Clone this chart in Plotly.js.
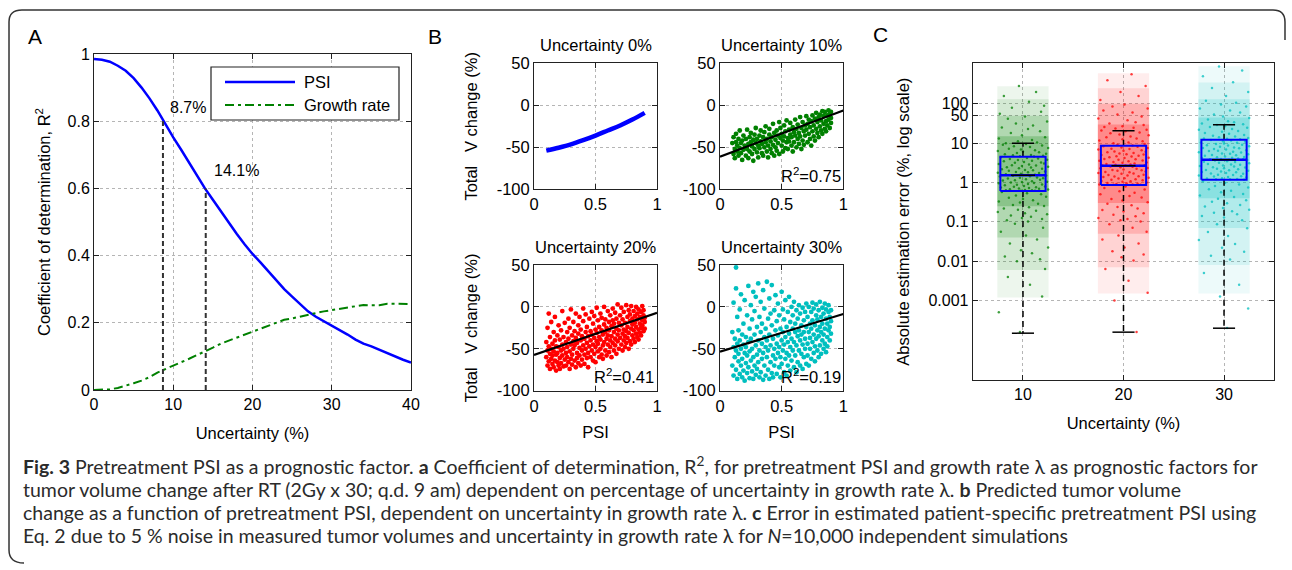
<!DOCTYPE html>
<html><head><meta charset="utf-8">
<script src="https://cdn.plot.ly/plotly-3.0.1.min.js"></script>
<style>html,body{margin:0;padding:0;background:#fff}#chart{width:1292px;height:570px}</style>
</head><body><div id="chart"></div>
<script>
// ================= Panel A data =================
const uncertaintyA = [0,1,2,3,4,5,6,7,8,9,10,11,12,13,14,15,16,17,18,19,20,21,22,23,24,25,26,27,28,29,30,31,32,33,34,35,36,37,38,39,40];
const r2PSI = [0.985,0.983,0.977,0.965,0.950,0.928,0.900,0.868,0.832,0.790,0.752,0.715,0.676,0.638,0.600,0.566,0.532,0.497,0.465,0.434,0.405,0.380,0.353,0.325,0.300,0.278,0.255,0.234,0.218,0.205,0.192,0.178,0.165,0.150,0.138,0.130,0.120,0.108,0.098,0.090,0.082];
const r2Growth = [0,0,0.002,0.006,0.012,0.020,0.028,0.038,0.052,0.062,0.071,0.082,0.093,0.104,0.114,0.126,0.138,0.147,0.157,0.166,0.174,0.183,0.192,0.201,0.209,0.213,0.219,0.225,0.229,0.234,0.238,0.242,0.245,0.249,0.253,0.252,0.252,0.257,0.256,0.256,0.256];
const seriesNames = ['PSI', 'Growth rate'];
const markUncertainty = [8.7, 14.1];
const markR2 = [0.80, 0.60];
const markLabels = ['8.7%', '14.1%'];

// ================= Panel B data =================
const psiCurve = [0.1,0.2,0.3,0.4,0.5,0.6,0.7,0.8,0.9];
const vChangeCurve = [-54,-50.5,-46.5,-41.5,-36,-30,-24,-17,-9];
const ptsU10 = [[0.10,-45],[0.11,-58],[0.11,-38],[0.12,-52],[0.12,-63],[0.13,-44],[0.13,-34],[0.14,-55],[0.14,-48],[0.15,-60],[0.15,-40],[0.16,-51],[0.16,-30],[0.17,-57],[0.17,-45],[0.18,-65],[0.18,-42],[0.19,-53],[0.19,-36],[0.20,-48],
[0.21,-60],[0.21,-40],[0.22,-52],[0.22,-29],[0.23,-46],[0.23,-63],[0.24,-38],[0.24,-55],[0.25,-44],[0.25,-33],[0.26,-58],[0.26,-49],[0.27,-41],[0.27,-66],[0.28,-35],[0.28,-52],[0.29,-45],[0.29,-27],[0.30,-56],[0.30,-40],[0.31,-48],[0.31,-62],[0.32,-36],[0.32,-51],[0.33,-43],[0.33,-30],[0.34,-57],[0.34,-46],[0.35,-38],
[0.35,-60],[0.36,-50],[0.36,-32],[0.37,-44],[0.37,-25],[0.38,-55],[0.38,-40],[0.39,-48],[0.39,-62],[0.40,-35],[0.40,-28],[0.41,-52],[0.41,-43],[0.42,-57],[0.42,-38],[0.43,-22],[0.43,-47],[0.44,-33],[0.44,-60],[0.45,-41],[0.45,-50],[0.46,-30],[0.46,-54],[0.47,-36],[0.47,-45],[0.48,-20],[0.48,-58],[0.49,-39],[0.49,-27],[0.50,-48],[0.50,-34],[0.51,-55],[0.51,-42],[0.52,-24],[0.52,-37],[0.53,-51],[0.53,-31],[0.54,-44],[0.54,-18],[0.55,-39],
[0.55,-52],[0.56,-29],[0.56,-43],[0.57,-35],[0.57,-21],[0.58,-48],[0.58,-38],[0.59,-26],[0.59,-55],[0.60,-32],[0.60,-44],[0.61,-17],[0.61,-36],[0.62,-50],[0.62,-28],[0.63,-40],[0.63,-23],[0.64,-46],[0.64,-33],[0.65,-14],[0.65,-37],[0.66,-52],[0.66,-27],[0.67,-42],[0.67,-20],[0.68,-31],[0.68,-47],[0.69,-24],[0.69,-36],[0.70,-13],[0.70,-29],[0.71,-44],[0.71,-22],[0.72,-34],[0.72,-17],[0.73,-40],[0.73,-26],[0.74,-48],[0.74,-19],[0.75,-31],
[0.75,-12],[0.76,-37],[0.76,-24],[0.77,-16],[0.77,-42],[0.78,-28],[0.78,-9],[0.79,-33],[0.79,-20],[0.80,-14],[0.80,-38],[0.81,-25],[0.81,-11],[0.82,-30],[0.82,-18],[0.83,-7],[0.83,-34],[0.84,-22],[0.84,-13],[0.85,-28],[0.85,-8],[0.86,-19],[0.86,-31],[0.87,-12],[0.87,-24],[0.88,-6],[0.88,-17],[0.89,-27],[0.89,-10],[0.90,-15],[0.90,-21],[0.90,-8]];
const ptsU20 = [[0.10,-60],[0.10,-42],[0.11,-70],[0.11,-52],[0.11,-25],[0.12,-65],[0.12,-47],[0.12,-8],[0.13,-56],[0.13,-74],[0.13,-36],[0.14,-62],[0.14,-50],[0.14,-18],[0.15,-68],[0.15,-44],[0.15,-58],[0.16,-30],[0.16,-72],[0.16,-53],[0.17,-64],[0.17,-40],[0.17,-12],[0.18,-57],[0.18,-76],[0.18,-47],[0.19,-66],[0.19,-34],[0.19,-55],[0.20,-70],[0.20,-22],[0.20,-48],[0.21,-61],[0.21,-39],[0.21,-74],[0.22,-52],[0.22,-28],[0.22,-67],[0.23,-45],[0.23,-58],[0.23,-5],[0.24,-71],[0.24,-36],[0.24,-50],[0.25,-63],[0.25,-19],
[0.26,-55],[0.26,-42],[0.26,-70],[0.27,-30],[0.27,-60],[0.27,-48],[0.28,-14],[0.28,-66],[0.28,-38],[0.29,-53],[0.29,-74],[0.29,-25],[0.30,-45],[0.30,-62],[0.30,-3],[0.31,-34],[0.31,-57],[0.31,-69],[0.32,-41],[0.32,-18],[0.32,-50],[0.33,-64],[0.33,-29],[0.33,-46],[0.34,-72],[0.34,-37],[0.34,-8],[0.35,-55],[0.35,-43],[0.35,-61],[0.36,-22],[0.36,-67],[0.36,-32],[0.37,-49],[0.37,-12],[0.37,-58],[0.38,-40],[0.38,-70],[0.38,-27],[0.39,-52],[0.39,-35],[0.39,-63],[0.40,-2],[0.40,-46],[0.40,-17],[0.41,-57],[0.41,-38],[0.41,-68],[0.42,-30],[0.42,-50],[0.42,-9],[0.43,-43],[0.43,-61],[0.43,-24],[0.44,-55],[0.44,-35],[0.44,-72],[0.45,-47],[0.45,-14],
[0.46,-60],[0.46,-29],[0.46,-40],[0.47,-52],[0.47,-6],[0.47,-33],[0.48,-64],[0.48,-45],[0.48,-20],[0.49,-37],[0.49,-56],[0.49,-11],[0.50,-48],[0.50,-27],[0.50,-66],[0.51,-41],[0.51,-1],[0.51,-31],[0.52,-53],[0.52,-16],[0.52,-44],[0.53,-60],[0.53,-24],[0.53,-36],[0.54,-8],[0.54,-50],[0.54,-39],[0.55,-28],[0.55,-57],[0.55,-13],[0.56,-46],[0.56,-33],[0.56,-62],[0.57,-21],[0.57,-42],[0.57,0],[0.58,-52],[0.58,-30],[0.58,-15],[0.59,-38],[0.59,-58],[0.59,-25],[0.60,-5],[0.60,-45],[0.60,-34],[0.61,-18],[0.61,-54],[0.61,-28],[0.62,-40],[0.62,-10],[0.62,-48],[0.63,-23],[0.63,-60],[0.63,-35],[0.64,-2],[0.64,-43],[0.64,-16],[0.65,-30],[0.65,-52],[0.65,-20],[0.66,-38],[0.66,-7],[0.66,-46],[0.67,-26],[0.67,-14],[0.67,-56],[0.68,-33],[0.68,3],[0.68,-41],[0.69,-19],[0.69,-50],[0.69,-28],[0.70,-10],[0.70,-37],
[0.71,-45],[0.71,-22],[0.71,-1],[0.72,-32],[0.72,-52],[0.72,-15],[0.73,-40],[0.73,-6],[0.73,-27],[0.74,-48],[0.74,-19],[0.74,-35],[0.75,2],[0.75,-29],[0.75,-43],[0.76,-12],[0.76,-37],[0.76,-24],[0.77,-50],[0.77,-4],[0.77,-31],[0.78,-17],[0.78,-41],[0.78,-9],[0.79,-26],[0.79,-45],[0.79,1],[0.80,-34],[0.80,-14],[0.80,-21],[0.81,-38],[0.81,-5],[0.81,-28],[0.82,-11],[0.82,-42],[0.82,-19],[0.83,-32],[0.83,0],[0.83,-24],[0.84,-8],[0.84,-36],[0.84,-15],[0.85,-27],[0.85,-3],[0.85,-39],[0.86,-20],[0.86,-12],[0.86,-31],[0.87,-6],[0.87,-25],[0.87,-34],[0.88,-16],[0.88,1],[0.88,-22],[0.89,-10],[0.89,-29],[0.89,-4],[0.90,-18],[0.90,-13],[0.90,-26]];
const ptsU30 = [[0.10,-70],[0.10,-30],[0.11,-82],[0.11,-48],[0.11,5],[0.12,-60],[0.12,-38],[0.13,47],[0.13,-75],[0.13,-52],[0.13,22],[0.14,-86],[0.14,-44],[0.14,-12],[0.15,-65],[0.15,-28],[0.15,-56],[0.16,-80],[0.16,-3],[0.16,-40],[0.17,-70],[0.17,-50],[0.17,15],[0.18,-84],[0.18,-33],[0.18,-62],[0.19,-20],[0.19,-76],[0.19,-45],[0.20,-55],[0.20,8],[0.20,-88],[0.21,-36],[0.21,-67],[0.21,-48],[0.22,-10],[0.22,-79],[0.22,-58],[0.23,25],[0.23,-42],[0.23,-72],[0.24,-26],[0.24,-85],[0.24,-53],[0.25,-64],[0.25,2],[0.25,-38],
[0.26,-77],[0.26,-15],[0.26,-50],[0.27,18],[0.27,-60],[0.27,-86],[0.28,-33],[0.28,-70],[0.28,-5],[0.29,-46],[0.29,-81],[0.29,12],[0.30,-57],[0.30,-24],[0.30,-74],[0.31,-40],[0.31,28],[0.31,-66],[0.32,-84],[0.32,-12],[0.32,-52],[0.33,-30],[0.33,-78],[0.33,6],[0.34,-62],[0.34,-44],[0.34,-20],[0.35,-87],[0.35,-55],[0.35,20],[0.36,-36],[0.36,-70],[0.36,-2],[0.37,-48],[0.37,-82],[0.37,-26],[0.38,30],[0.38,-60],[0.38,-40],[0.39,-75],[0.39,-14],[0.39,-52],[0.40,-86],[0.40,10],[0.40,-33],[0.41,-66],[0.41,-46],[0.41,-8],[0.42,-79],[0.42,-22],[0.42,26],[0.43,-58],[0.43,-38],[0.43,-84],[0.44,-4],[0.44,-50],[0.44,-70],[0.45,-28],[0.45,14],[0.45,-62],
[0.46,-44],[0.46,-80],[0.46,-17],[0.47,-55],[0.47,4],[0.47,-34],[0.48,-72],[0.48,-48],[0.48,-10],[0.49,-84],[0.49,-26],[0.49,-60],[0.50,18],[0.50,-40],[0.50,-68],[0.51,-52],[0.51,-3],[0.51,-30],[0.52,-78],[0.52,-45],[0.52,-15],[0.53,-62],[0.53,8],[0.53,-36],[0.54,-82],[0.54,-24],[0.54,-55],[0.55,-6],[0.55,-42],[0.55,-70],[0.56,-32],[0.56,12],[0.56,-58],[0.57,-18],[0.57,-76],[0.57,-48],[0.58,0],[0.58,-38],[0.58,-64],[0.59,-26],[0.59,-52],[0.59,-10],[0.60,-72],[0.60,-42],[0.60,6],[0.61,-30],[0.61,-58],[0.61,-20],[0.62,-78],[0.62,-46],[0.62,-4],[0.63,-35],[0.63,-66],[0.63,-14],[0.64,-52],[0.64,2],[0.64,-28],[0.65,-70],[0.65,-40],[0.65,-8],[0.66,-56],[0.66,-22],[0.66,-33],[0.67,-74],[0.67,-1],[0.67,-45],[0.68,-16],[0.68,-60],[0.68,-30],[0.69,-50],[0.69,-6],[0.69,-38],[0.70,-68],[0.70,-24],[0.70,4],
[0.71,-44],[0.71,-12],[0.71,-58],[0.72,-30],[0.72,0],[0.72,-70],[0.73,-20],[0.73,-50],[0.73,-37],[0.74,-6],[0.74,-62],[0.74,-26],[0.75,-42],[0.75,5],[0.75,-16],[0.76,-55],[0.76,-33],[0.76,-2],[0.77,-47],[0.77,-22],[0.77,-65],[0.78,-10],[0.78,-38],[0.78,3],[0.79,-28],[0.79,-52],[0.79,-15],[0.80,-60],[0.80,-4],[0.80,-35],[0.81,-24],[0.81,-46],[0.81,6],[0.82,-12],[0.82,-56],[0.82,-30],[0.83,-40],[0.83,-1],[0.83,-20],[0.84,-50],[0.84,-8],[0.84,-33],[0.85,-26],[0.85,4],[0.85,-44],[0.86,-14],[0.86,-54],[0.86,-3],[0.87,-36],[0.87,-20],[0.87,-47],[0.88,-6],[0.88,-28],[0.88,2],[0.89,-40],[0.89,-12],[0.89,-24],[0.90,-32],[0.90,-4],[0.90,-17]];
const fitIntercept = [-61.1, -57.4, -53.5];
const fitSlope = [54.8, 50.4, 45.0];
const r2Labels = ['0.75', '0.41', '0.19'];
const bTitles = ['Uncertainty 0%', 'Uncertainty 10%', 'Uncertainty 20%', 'Uncertainty 30%'];

// ================= Panel C data =================
const cGroups = [10, 20, 30];
const cQ1 = [0.61, 0.87, 1.17];
const cMedian = [1.53, 2.65, 3.77];
const cQ3 = [4.5, 8.55, 12.2];
const cUpperWhisker = [10, 20.6, 29.3];
const cLowerWhisker = [0.000148, 0.000157, 0.000198];
// point-cloud density levels (sparse -> dense), per group: lower / upper extent
const cDensityLo = [[0.0012, 0.0015, 0.0015], [0.006, 0.007, 0.008], [0.04, 0.05, 0.07], [0.25, 0.3, 0.4]];
const cDensityHi = [[280, 600, 900], [130, 250, 350], [50, 100, 130], [15, 30, 45]];
// [jitter offset, log10(error %)]
const cloud10 = [[-0.4,2.45],[1.3,2.3],[-1.9,2.2],[0.6,2.05],[2.1,1.95],[-1.1,1.9],[1.8,1.8],[-2.3,1.75],
[0.2,1.68],[-1.5,1.62],[2.4,1.55],[-0.7,1.5],[1.0,1.45],[-2.1,1.4],[0.5,1.36],[1.7,1.3],[-1.2,1.26],[-0.1,1.2],[2.2,1.15],[-2.4,1.12],[0.9,1.08],[-0.5,1.05],[1.4,1.02],[-1.7,1.0],
[0.3,0.98],[-2.0,0.96],[1.9,0.94],[-0.9,0.92],[0.7,0.9],[2.5,0.88],[-1.4,0.86],[-0.2,0.84],[1.2,0.82],[-2.5,0.8],[0.0,0.78],[1.6,0.77],[-0.6,0.75],[2.3,0.73],[-1.8,0.72],[0.8,0.7],[-1.0,0.69],[2.0,0.68],[-0.3,0.67],[1.1,0.66],
[-2.2,0.64],[0.4,0.62],[1.5,0.61],[-1.3,0.6],[2.4,0.58],[-0.5,0.57],[0.9,0.55],[-1.9,0.54],[0.1,0.52],[1.8,0.51],[-0.8,0.5],[2.1,0.48],[-2.4,0.47],[0.6,0.46],[-1.1,0.44],[1.3,0.43],[-0.1,0.42],[2.5,0.4],[-1.6,0.39],[0.8,0.38],[-0.4,0.36],[1.9,0.35],[-2.1,0.34],[0.2,0.32],[1.0,0.31],[-1.4,0.3],[2.2,0.28],[-0.7,0.27],[0.5,0.26],[-2.5,0.25],[1.6,0.24],[-0.2,0.22],[-1.7,0.21],[1.2,0.2],[0.0,0.19],[2.3,0.18],
[-1.0,0.17],[0.7,0.16],[-2.3,0.15],[1.4,0.13],[-0.3,0.12],[2.0,0.11],[-1.5,0.1],[0.3,0.08],[1.7,0.07],[-0.8,0.06],[-2.0,0.05],[0.9,0.03],[2.4,0.02],[-0.1,0.01],[-1.2,0.0],[1.1,-0.01],[-2.4,-0.02],[0.5,-0.04],[1.9,-0.05],[-0.6,-0.06],[-1.8,-0.07],[0.1,-0.09],[2.2,-0.1],[-0.9,-0.11],[1.3,-0.12],[-2.2,-0.13],[0.6,-0.14],[-0.4,-0.15],[1.6,-0.16],[-1.3,-0.17],[2.5,-0.18],[0.2,-0.19],[-1.7,-0.2],[0.9,-0.2],[-0.2,-0.21],[1.2,-0.21],
[-2.1,-0.24],[0.4,-0.27],[1.8,-0.3],[-0.7,-0.33],[2.3,-0.36],[-1.4,-0.39],[0.0,-0.42],[1.0,-0.45],[-2.4,-0.48],[-0.3,-0.51],[1.5,-0.54],[-1.0,-0.57],[2.1,-0.6],[0.6,-0.63],[-1.9,-0.66],[-0.5,-0.69],[1.3,-0.72],[-2.5,-0.75],[0.2,-0.78],[2.4,-0.81],[-1.2,-0.84],[0.8,-0.87],[-0.1,-0.9],[1.9,-0.93],[-1.6,-0.96],[0.5,-0.99],
[-0.8,-1.05],[2.0,-1.15],[-2.2,-1.25],[0.3,-1.35],[1.4,-1.45],[-1.3,-1.55],[2.5,-1.65],[-0.2,-1.72],[0.9,-1.8],[-1.8,-1.88],[1.7,-1.95],[-0.6,-2.0],
[2.2,-2.2],[-1.5,-2.4],[0.7,-2.6],[1.9,-2.9],[-2.4,-3.3],[-0.3,-3.8]];
const cloud20 = [[0.8,2.75],[-1.6,2.6],[2.2,2.45],[-0.3,2.3],[1.5,2.2],[-2.3,2.1],
[0.1,1.98],[-1.1,1.93],[2.4,1.88],[-2.0,1.83],[0.9,1.78],[-0.6,1.73],[1.8,1.68],[-2.5,1.63],[0.4,1.58],[1.2,1.53],[-1.4,1.5],[2.0,1.46],[-0.1,1.43],[-1.9,1.41],
[1.0,1.39],[-0.8,1.37],[2.3,1.34],[-2.2,1.32],[0.2,1.3],[1.6,1.27],[-1.3,1.25],[-0.4,1.22],[2.5,1.2],[0.7,1.17],[-1.7,1.15],[1.3,1.12],[-0.1,1.1],[-2.4,1.07],[1.9,1.05],[0.5,1.02],[-1.0,1.0],[2.1,0.98],[-0.6,0.96],[0.9,0.94],
[-2.0,0.92],[1.4,0.91],[-0.2,0.89],[2.4,0.88],[-1.2,0.86],[0.6,0.85],[-2.5,0.84],[1.8,0.82],[0.0,0.81],[-0.9,0.79],[2.2,0.78],[-1.6,0.77],[1.0,0.75],[-0.4,0.74],[0.3,0.72],[2.0,0.71],[-2.2,0.7],[1.5,0.68],[-0.7,0.67],[0.8,0.66],[-1.4,0.64],[2.5,0.63],[0.1,0.62],[-1.9,0.6],[1.2,0.59],[-0.5,0.58],[1.9,0.56],[-2.4,0.55],[0.5,0.54],[-1.0,0.52],[2.3,0.51],[-0.1,0.5],[1.1,0.48],[-1.7,0.47],[0.7,0.46],[-0.8,0.45],[2.1,0.44],[-2.1,0.43],[0.2,0.43],[1.6,0.42],
[-1.3,0.41],[0.9,0.4],[-0.3,0.39],[2.4,0.37],[-2.3,0.36],[1.3,0.35],[0.0,0.33],[-1.1,0.32],[1.8,0.31],[-0.6,0.3],[2.2,0.28],[-1.8,0.27],[0.6,0.26],[-2.5,0.24],[1.0,0.23],[-0.2,0.22],[2.0,0.2],[-1.5,0.19],[0.4,0.18],[1.5,0.16],[-0.9,0.15],[-2.0,0.14],[2.5,0.12],[0.1,0.11],[-0.5,0.1],[1.2,0.08],[-1.2,0.07],[1.9,0.06],[-2.2,0.04],[0.7,0.03],[-0.1,0.02],[2.3,0.0],[-1.6,-0.01],[0.3,-0.02],[1.4,-0.03],[-0.7,-0.04],[-2.4,-0.05],[0.9,-0.05],[1.7,-0.06],[-1.0,-0.06],
[0.2,-0.1],[-1.9,-0.14],[2.1,-0.18],[-0.4,-0.22],[1.1,-0.26],[-2.3,-0.3],[0.6,-0.34],[1.8,-0.38],[-1.2,-0.42],[-0.1,-0.46],[2.4,-0.5],[-1.6,-0.54],[0.8,-0.58],[-0.6,-0.62],[1.4,-0.66],[-2.1,-0.7],[0.0,-0.74],[2.0,-0.78],[-1.0,-0.82],[1.2,-0.86],[-2.5,-0.9],[0.4,-0.93],[-0.3,-0.96],[1.7,-0.99],
[-1.4,-1.06],[0.9,-1.15],[2.3,-1.25],[-0.5,-1.35],[-2.1,-1.45],[1.5,-1.55],[0.1,-1.65],[-1.1,-1.75],[2.0,-1.83],[-0.2,-1.9],[1.0,-1.98],
[-1.8,-2.2],[0.5,-2.5],[2.4,-2.8],[-0.9,-3.0],[1.3,-3.8]];
const cloud30 = [[-0.5,2.95],[1.8,2.85],[-2.1,2.7],[0.9,2.55],[-1.2,2.4],[2.4,2.3],[0.2,2.2],
[-1.8,2.08],[1.2,2.03],[-0.3,1.98],[2.2,1.93],[-2.4,1.88],[0.6,1.83],[1.6,1.78],[-1.0,1.73],[-0.1,1.68],[2.5,1.64],[-1.6,1.6],[0.4,1.56],[1.0,1.53],[-2.2,1.5],
[1.9,1.48],[-0.7,1.46],[0.1,1.43],[-1.4,1.41],[2.3,1.39],[0.8,1.36],[-2.5,1.34],[1.4,1.31],[-0.2,1.29],[-1.9,1.26],[0.5,1.24],[2.0,1.21],[-1.1,1.19],[1.1,1.17],[-0.5,1.15],[2.4,1.13],[-2.0,1.12],[0.3,1.11],[1.6,1.1],
[-1.3,1.08],[0.7,1.07],[-0.1,1.05],[2.1,1.04],[-2.3,1.02],[1.3,1.01],[0.0,0.99],[-0.8,0.98],[1.8,0.96],[-1.7,0.95],[0.4,0.94],[2.5,0.92],[-0.4,0.91],[1.0,0.89],[-2.1,0.88],[1.5,0.87],[-1.0,0.85],[0.2,0.84],[2.2,0.82],[-0.6,0.81],[-1.5,0.8],[0.9,0.78],[-2.5,0.77],[1.7,0.76],[-0.2,0.74],[0.6,0.73],[2.4,0.72],[-1.2,0.7],[1.2,0.69],[-1.9,0.68],[0.1,0.66],[2.0,0.65],[-0.7,0.64],[0.8,0.63],[-2.2,0.62],[1.4,0.61],[-0.3,0.6],[1.9,0.59],[-1.4,0.59],[0.5,0.58],
[2.3,0.57],[-0.9,0.56],[0.3,0.54],[-2.0,0.53],[1.1,0.52],[-0.5,0.5],[2.5,0.49],[-1.6,0.47],[0.7,0.46],[1.6,0.45],[-0.1,0.43],[-2.4,0.42],[1.0,0.41],[-1.1,0.39],[2.1,0.38],[0.0,0.36],[-0.7,0.35],[1.4,0.34],[-1.8,0.32],[0.5,0.31],[2.4,0.3],[-0.3,0.28],[-2.2,0.27],[1.2,0.26],[0.2,0.24],[-1.3,0.23],[1.9,0.22],[-0.6,0.2],[0.9,0.19],[-2.5,0.18],[1.7,0.16],[-1.0,0.15],[0.4,0.14],[2.2,0.13],[-0.2,0.11],[-1.7,0.1],[1.3,0.09],[0.6,0.08],[-0.8,0.08],[2.0,0.07],
[-2.1,0.03],[0.1,-0.01],[1.5,-0.05],[-0.9,-0.09],[2.4,-0.13],[-1.5,-0.17],[0.7,-0.21],[-0.3,-0.25],[1.9,-0.29],[-2.4,-0.33],[1.0,-0.37],[-0.6,-0.41],[2.2,-0.45],[-1.2,-0.49],[0.3,-0.53],[1.6,-0.57],[-1.9,-0.61],[-0.1,-0.65],[2.5,-0.69],[0.8,-0.73],[-1.0,-0.77],[1.3,-0.81],[-2.2,-0.85],[0.0,-0.89],
[1.8,-0.96],[-0.7,-1.06],[2.3,-1.16],[-1.6,-1.26],[0.4,-1.36],[-2.5,-1.46],[1.1,-1.56],[-0.2,-1.66],[2.0,-1.76],[-1.3,-1.86],[0.6,-1.96],
[-2.0,-2.3],[1.5,-2.6],[-0.4,-2.9],[2.4,-3.2],[0.3,-3.7]];
const cTickVals = [0.001, 0.01, 0.1, 1, 10, 50, 100];
const cTickText = ['0.001', '0.01', '0.1', '1', '10', '50', '100'];

// ================= Styling / geometry =================
const F = 'Liberation Sans, Arial, Helvetica, sans-serif';
const W = 1292, H = 570;
const px = v => v / W, py = v => 1 - v / H;
const GREEN = '#008000', RED = '#ff0000', CYAN = '#00bfbf', BLUE = '#0000ff';
const TS = 16.5;

const traces = [];
// ---- Panel A
traces.push({x: uncertaintyA, y: r2PSI, type: 'scatter', mode: 'lines', name: seriesNames[0],
  line: {color: BLUE, width: 2.5}, xaxis: 'x', yaxis: 'y'});
traces.push({x: uncertaintyA, y: r2Growth, type: 'scatter', mode: 'lines', name: seriesNames[1],
  line: {color: GREEN, width: 2, dash: '9px,4px,3px,4px'}, xaxis: 'x', yaxis: 'y'});
markUncertainty.forEach((u, i) => traces.push({x: [u, u], y: [0, markR2[i]], type: 'scatter', mode: 'lines',
  line: {color: '#333', width: 2, dash: '5px,3px'}, hoverinfo: 'skip', xaxis: 'x', yaxis: 'y'}));

// ---- Panel B
traces.push({x: psiCurve, y: vChangeCurve, type: 'scatter', mode: 'lines', line: {color: BLUE, width: 4.5, shape: 'spline'},
  xaxis: 'x2', yaxis: 'y2'});
const bSets = [[ptsU10, GREEN, 'x3', 'y3'], [ptsU20, RED, 'x4', 'y4'], [ptsU30, CYAN, 'x5', 'y5']];
bSets.forEach(([pts, col, xa, ya], i) => {
  traces.push({x: pts.map(p => p[0]), y: pts.map(p => p[1]), type: 'scatter', mode: 'markers',
    marker: {color: col, size: 4.8, line: {width: 0}}, xaxis: xa, yaxis: ya});
  traces.push({x: [0, 1], y: [fitIntercept[i], fitIntercept[i] + fitSlope[i]], type: 'scatter', mode: 'lines',
    line: {color: '#000', width: 2.2}, xaxis: xa, yaxis: ya});
});

// ---- Panel C
const cCols = [GREEN, RED, CYAN];
const cRGB = ['0,128,0', '255,0,0', '0,191,191'];
const levelAlpha = [0.07, 0.11, 0.16, 0.22];
cDensityLo.forEach((lo, k) => traces.push({type: 'bar', x: cGroups, base: lo, y: cDensityHi[k].map((h, i) => h - lo[i]), width: 5.1,
  marker: {color: cRGB.map(c => 'rgba(' + c + ',' + levelAlpha[k] + ')'), line: {width: 0}}, hoverinfo: 'skip', xaxis: 'x6', yaxis: 'y6'}));
[cloud10, cloud20, cloud30].forEach((cl, i) => {
  traces.push({x: cl.map(p => cGroups[i] + p[0]), y: cl.map(p => Math.pow(10, p[1])), type: 'scatter', mode: 'markers',
    marker: {color: cCols[i], size: 2.5, opacity: 0.75, line: {width: 0}}, xaxis: 'x6', yaxis: 'y6'});
});
const BOXHW = 2.25, CAPHW = 1.1, MEDHW = 1.2;
cGroups.forEach((g, i) => {
  const L = (xs, ys, line) => traces.push({x: xs, y: ys, type: 'scatter', mode: 'lines', line: line, hoverinfo: 'skip', xaxis: 'x6', yaxis: 'y6'});
  L([g, g], [cQ3[i], cUpperWhisker[i]], {color: '#000', width: 1.5, dash: '6px,4px'});
  L([g, g], [cQ1[i], cLowerWhisker[i]], {color: '#000', width: 1.5, dash: '6px,4px'});
  L([g - CAPHW, g + CAPHW], [cUpperWhisker[i], cUpperWhisker[i]], {color: '#000', width: 1.5});
  L([g - CAPHW, g + CAPHW], [cLowerWhisker[i], cLowerWhisker[i]], {color: '#000', width: 1.5});
  L([g - BOXHW, g + BOXHW, g + BOXHW, g - BOXHW, g - BOXHW], [cQ1[i], cQ1[i], cQ3[i], cQ3[i], cQ1[i]], {color: BLUE, width: 2});
  L([g - BOXHW, g + BOXHW], [cMedian[i], cMedian[i]], {color: BLUE, width: 2.5});
  L([g - MEDHW, g + MEDHW], [cMedian[i], cMedian[i]], {color: '#000', width: 1.5});
});

// ================= Axes =================
function ax(domain, extra) {
  return Object.assign({domain: domain, showline: true, linecolor: '#222', linewidth: 1, mirror: 'ticks',
    ticks: 'inside', ticklen: 5, tickcolor: '#222', showgrid: true, gridcolor: '#b5b5b5', griddash: 'dot', gridwidth: 1,
    zeroline: false, automargin: false, fixedrange: true, tickfont: {family: F, size: 16, color: '#000'}}, extra);
}
const tfT = {family: F, size: TS, color: '#000'};
const bY1 = [py(189.3), py(63.3)], bY2 = [py(390.7), py(265)];
const bX1 = [px(534), px(657)], bX2 = [px(720), px(843.3)];
const bYTitle = {text: 'Total\u00a0\u00a0\u00a0V change (%)', font: tfT, standoff: 14};
const bXTitle = {text: 'PSI', font: tfT, standoff: 12};
function bx(dom, anchor, title) { return ax(dom, Object.assign({anchor: anchor, range: [0, 1], tickvals: [0, 0.5, 1], ticktext: ['0', '0.5', '1'], tickfont: tfT}, title ? {title: title} : {})); }
function by(dom, anchor, title) { return ax(dom, Object.assign({anchor: anchor, range: [-100, 50], tickvals: [-100, -50, 0, 50], ticktext: ['-100', '-50', '0', '50'], tickfont: tfT}, title ? {title: title} : {})); }

const layout = {
  width: W, height: H, margin: {l: 0, r: 0, t: 0, b: 0}, paper_bgcolor: '#fff', plot_bgcolor: '#fff',
  font: {family: F, color: '#000'}, barmode: 'overlay', hovermode: false, showlegend: false,
  xaxis: ax([px(94), px(411)], {anchor: 'y', range: [0, 40], tickvals: [0, 10, 20, 30, 40],
    title: {text: 'Uncertainty (%)', font: tfT, standoff: 15}}),
  yaxis: ax([py(390), py(54)], {anchor: 'x', range: [0, 1], tickvals: [0, 0.2, 0.4, 0.6, 0.8, 1], ticktext: ['0', '0.2', '0.4', '0.6', '0.8', '1'],
    title: {text: 'Coefficient of determination, R<sup>2</sup>', font: tfT, standoff: 12}}),
  xaxis2: bx(bX1, 'y2'), yaxis2: by(bY1, 'x2', bYTitle),
  xaxis3: bx(bX2, 'y3'), yaxis3: by(bY1, 'x3'),
  xaxis4: bx(bX1, 'y4', bXTitle), yaxis4: by(bY2, 'x4', bYTitle),
  xaxis5: bx(bX2, 'y5', bXTitle), yaxis5: by(bY2, 'x5'),
  xaxis6: ax([px(972.7), px(1274.3)], {anchor: 'y6', range: [5, 35], tickvals: cGroups, ticktext: cGroups.map(String),
    title: {text: 'Uncertainty (%)', font: tfT, standoff: 15}}),
  yaxis6: ax([py(380), py(63.3)], {anchor: 'x6', type: 'log', range: [-5.02, 3.03], tickvals: cTickVals, ticktext: cTickText,
    title: {text: 'Absolute estimation error (%, log scale)', font: tfT, standoff: 14}}),
  annotations: [],
  shapes: []
};

// panel letters
[['A', 35, 37], ['B', 435, 37], ['C', 880, 35]].forEach(([t, x, y]) => layout.annotations.push({
  text: t, xref: 'paper', yref: 'paper', x: px(x), y: py(y), xanchor: 'center', yanchor: 'middle', showarrow: false,
  font: {family: F, size: 21, color: '#000'}}));
// A threshold labels
markLabels.forEach((t, i) => layout.annotations.push({text: t, xref: 'x', yref: 'y',
  x: [11.9, 18.0][i], y: [0.842, 0.652][i], showarrow: false, font: {family: F, size: 16, color: '#000'}}));
// A legend (drawn box with long line samples, as in the reference)
layout.shapes.push({type: 'rect', xref: 'paper', yref: 'paper', x0: px(211), x1: px(399), y0: py(120), y1: py(67),
  line: {color: '#222', width: 1.2}, fillcolor: '#fff', layer: 'above'});
layout.shapes.push({type: 'line', xref: 'paper', yref: 'paper', x0: px(225), x1: px(295), y0: py(82), y1: py(82),
  line: {color: BLUE, width: 2.5}, layer: 'above'});
layout.shapes.push({type: 'line', xref: 'paper', yref: 'paper', x0: px(225), x1: px(295), y0: py(105), y1: py(105),
  line: {color: GREEN, width: 2, dash: '9px,4px,3px,4px'}, layer: 'above'});
seriesNames.forEach((t, i) => layout.annotations.push({text: t, xref: 'paper', yref: 'paper', x: px(302), y: py([82, 105][i]),
  xanchor: 'left', yanchor: 'middle', showarrow: false, font: {family: F, size: 16.5, color: '#000'}}));
// B subplot titles
const bCenters = [[595.5, 45], [781.6, 45], [595.5, 247], [781.6, 247]];
bTitles.forEach((t, i) => layout.annotations.push({text: t, xref: 'paper', yref: 'paper', x: px(bCenters[i][0]), y: py(bCenters[i][1]),
  showarrow: false, xanchor: 'center', yanchor: 'middle', font: tfT}));
// B R^2 labels
['3', '4', '5'].forEach((k, i) => layout.annotations.push({text: 'R<sup>2</sup>=' + r2Labels[i], xref: 'x' + k, yref: 'y' + k,
  x: 0.995, y: -83, xanchor: 'right', yanchor: 'middle', showarrow: false, font: tfT}));

// Caption
const CF = 'Lato, "Open Sans", sans-serif';
const captionLines = [
  '<b>Fig. 3</b> Pretreatment PSI as a prognostic factor. <b>a</b> Coefficient of determination, R<sup>2</sup>, for pretreatment PSI and growth rate λ as prognostic factors for',
  'tumor volume change after RT (2Gy x 30; q.d. 9 am) dependent on percentage of uncertainty in growth rate λ. <b>b</b> Predicted tumor volume',
  'change as a function of pretreatment PSI, dependent on uncertainty in growth rate λ. <b>c</b> Error in estimated patient-specific pretreatment PSI using',
  'Eq. 2 due to 5 % noise in measured tumor volumes and uncertainty in growth rate λ for <i>N</i>=10,000 independent simulations'];
const captionY = [465, 489, 512, 535];
captionLines.forEach((t, i) => layout.annotations.push({text: t, xref: 'paper', yref: 'paper', x: px(21), y: py(captionY[i]),
  xanchor: 'left', yanchor: 'middle', showarrow: false, align: 'left', font: {family: CF, size: 19.5, color: '#2b2b2b'}}));

// figure frame (rounded)
const fx = v => px(v).toFixed(5), fy = v => py(v).toFixed(5);
layout.shapes.push({type: 'path', xref: 'paper', yref: 'paper', layer: 'above',
  path: 'M' + fx(24) + ',' + fy(563) + ' Q' + fx(9) + ',' + fy(563) + ' ' + fx(9) + ',' + fy(550) +
        ' L' + fx(9) + ',' + fy(22) + ' Q' + fx(9) + ',' + fy(10) + ' ' + fx(22) + ',' + fy(10) +
        ' L' + fx(1273) + ',' + fy(10) + ' Q' + fx(1285) + ',' + fy(10) + ' ' + fx(1285) + ',' + fy(22) + ' L' + fx(1285) + ',' + fy(40),
  line: {color: '#333', width: 1.5}});

Plotly.newPlot('chart', traces, layout, {displayModeBar: false, staticPlot: true});
</script></body></html>
